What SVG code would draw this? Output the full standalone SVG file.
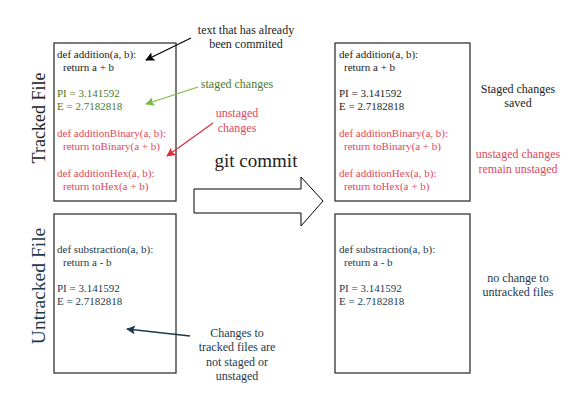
<svg xmlns="http://www.w3.org/2000/svg" width="585" height="409" viewBox="0 0 585 409">
<style>
.box{fill:#fff;stroke:#333;stroke-width:1.3}
.code{font-family:"Liberation Serif",serif;font-size:11px}
.ann{font-family:"Liberation Serif",serif;font-size:12px;text-anchor:middle}
.k{fill:#222}
.g{fill:#4c7a2c}
.r{fill:#e0485b}
.n{fill:#1c3a4c}
.lbl{font-family:"Liberation Serif",serif;text-anchor:middle}
</style>
<defs>
<marker id="mk" viewBox="0 0 10 10" refX="9" refY="5" markerWidth="9" markerHeight="9" markerUnits="userSpaceOnUse" orient="auto"><path d="M0,0 L10,5 L0,10 L2,5 Z" fill="#000"/></marker>
<marker id="mg" viewBox="0 0 10 10" refX="9" refY="5" markerWidth="9" markerHeight="9" markerUnits="userSpaceOnUse" orient="auto"><path d="M0,0 L10,5 L0,10 L2,5 Z" fill="#7dbb42"/></marker>
<marker id="mr" viewBox="0 0 10 10" refX="9" refY="5" markerWidth="9" markerHeight="9" markerUnits="userSpaceOnUse" orient="auto"><path d="M0,0 L10,5 L0,10 L2,5 Z" fill="#d9303f"/></marker>
<marker id="mn" viewBox="0 0 10 10" refX="9" refY="5" markerWidth="9" markerHeight="9" markerUnits="userSpaceOnUse" orient="auto"><path d="M0,0 L10,5 L0,10 L2,5 Z" fill="#1c3a4c"/></marker>
</defs>
<rect width="585" height="409" fill="#fff"/>

<g id="label-tracked"><text class="lbl k" font-size="18" transform="translate(45,118) rotate(-90)">Tracked File</text></g>
<g id="label-untracked"><text class="lbl n" font-size="19.5" transform="translate(45,286) rotate(-90)">Untracked File</text></g>

<g id="tracked-before">
<rect class="box" x="54" y="43" width="122" height="158"/>
<text class="code k"><tspan x="57" y="58">def addition(a, b):</tspan><tspan x="63" y="71">return a + b</tspan></text>
<text class="code g"><tspan x="57" y="97">PI = 3.141592</tspan><tspan x="57" y="110">E = 2.7182818</tspan></text>
<text class="code r"><tspan x="57" y="137">def additionBinary(a, b):</tspan><tspan x="63" y="150">return toBinary(a + b)</tspan><tspan x="57" y="177">def additionHex(a, b):</tspan><tspan x="63" y="190">return toHex(a + b)</tspan></text>
</g>

<g id="untracked-before">
<rect class="box" x="54" y="214" width="122" height="159"/>
<text class="code n"><tspan x="57" y="253">def substraction(a, b):</tspan><tspan x="63" y="266">return a - b</tspan><tspan x="57" y="292">PI = 3.141592</tspan><tspan x="57" y="305">E = 2.7182818</tspan></text>
</g>

<g id="tracked-after">
<rect class="box" x="335" y="43" width="135" height="158"/>
<text class="code k"><tspan x="339" y="58">def addition(a, b):</tspan><tspan x="344" y="71">return a + b</tspan><tspan x="339" y="97">PI = 3.141592</tspan><tspan x="339" y="110">E = 2.7182818</tspan></text>
<text class="code r"><tspan x="339" y="137">def additionBinary(a, b):</tspan><tspan x="344" y="150">return toBinary(a + b)</tspan><tspan x="339" y="177">def additionHex(a, b):</tspan><tspan x="344" y="190">return toHex(a + b)</tspan></text>
</g>

<g id="untracked-after">
<rect class="box" x="335" y="214" width="135" height="159"/>
<text class="code n"><tspan x="339" y="253">def substraction(a, b):</tspan><tspan x="344" y="266">return a - b</tspan><tspan x="339" y="292">PI = 3.141592</tspan><tspan x="339" y="305">E = 2.7182818</tspan></text>
</g>

<g id="commit">
<polygon points="194,189 301,189 301,177 323,201 301,226 301,213 194,213" fill="#fff" stroke="#000" stroke-width="1"/>
<text class="lbl k" font-size="19" x="256" y="167">git commit</text>
</g>

<g id="notes">
<text class="ann k"><tspan x="246" y="34">text that has already</tspan><tspan x="246" y="48">been commited</tspan></text>
<text class="ann g" x="237" y="88">staged changes</text>
<text class="ann r"><tspan x="237" y="117">unstaged</tspan><tspan x="237" y="132">changes</tspan></text>
<text class="ann n"><tspan x="237" y="337">Changes to</tspan><tspan x="237" y="351">tracked files are</tspan><tspan x="237" y="366">not staged or</tspan><tspan x="237" y="380">unstaged</tspan></text>
<text class="ann k"><tspan x="518" y="93">Staged changes</tspan><tspan x="518" y="107">saved</tspan></text>
<text class="ann r"><tspan x="518" y="158">unstaged changes</tspan><tspan x="518" y="173">remain unstaged</tspan></text>
<text class="ann n"><tspan x="518" y="282">no change to</tspan><tspan x="518" y="296">untracked files</tspan></text>
</g>

<g id="connectors" fill="none" stroke-width="1.2">
<line x1="191" y1="38" x2="146" y2="60" stroke="#000" marker-end="url(#mk)"/>
<line x1="198" y1="87" x2="146" y2="104" stroke="#7dbb42" marker-end="url(#mg)"/>
<line x1="213" y1="123" x2="167" y2="156" stroke="#d9303f" marker-end="url(#mr)"/>
<line x1="190" y1="336" x2="127" y2="329" stroke="#1c3a4c" stroke-width="1.5" marker-end="url(#mn)"/>
</g>
</svg>
